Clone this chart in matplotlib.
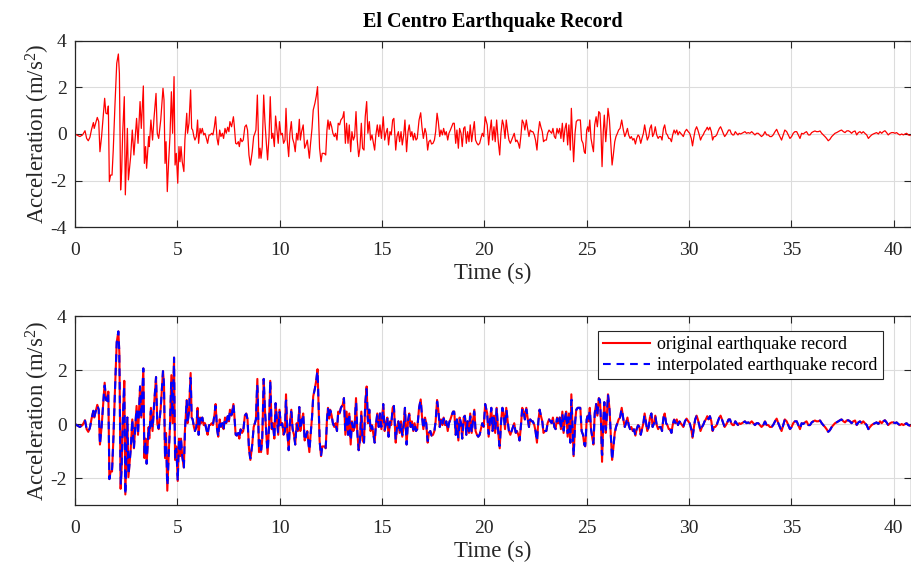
import numpy as np
import matplotlib
matplotlib.use("Agg")
import matplotlib.pyplot as plt

# El Centro ground acceleration, (time s, accel m/s^2) samples
TIME_S = [
    0.00, 0.10, 0.17, 0.24, 0.37, 0.49, 0.57, 0.65, 0.73, 0.81,
    0.90, 0.94, 1.01, 1.09, 1.16, 1.22, 1.30, 1.38, 1.45, 1.51,
    1.58, 1.63, 1.68, 1.74, 1.81, 1.87, 1.95, 2.04, 2.12, 2.17,
    2.23, 2.28, 2.33, 2.41, 2.46, 2.56, 2.61, 2.72, 2.80, 2.88,
    3.01, 3.08, 3.18, 3.24, 3.34, 3.39, 3.45, 3.50, 3.60, 3.63,
    3.71, 3.79, 3.86, 3.96, 4.02, 4.09, 4.19, 4.30, 4.35, 4.40,
    4.45, 4.51, 4.58, 4.64, 4.71, 4.77, 4.84, 4.89, 4.95, 5.02,
    5.08, 5.13, 5.18, 5.24, 5.32, 5.37, 5.46, 5.50, 5.57, 5.65,
    5.70, 5.75, 5.81, 5.86, 5.93, 5.99, 6.04, 6.11, 6.16, 6.22,
    6.29, 6.35, 6.42, 6.48, 6.55, 6.61, 6.68, 6.74, 6.81, 6.87,
    6.94, 7.00, 7.07, 7.13, 7.20, 7.26, 7.33, 7.39, 7.46, 7.52,
    7.57, 7.65, 7.74, 7.78, 7.85, 7.91, 7.98, 8.03, 8.09, 8.16,
    8.22, 8.30, 8.37, 8.43, 8.50, 8.57, 8.66, 8.73, 8.79, 8.84,
    8.91, 8.99, 9.04, 9.09, 9.15, 9.22, 9.28, 9.35, 9.41, 9.48,
    9.54, 9.61, 9.67, 9.74, 9.80, 9.93, 9.99, 10.06, 10.13, 10.19,
    10.26, 10.31, 10.37, 10.44, 10.50, 10.57, 10.63, 10.70, 10.76, 10.83,
    10.89, 10.96, 11.01, 11.07, 11.15, 11.22, 11.28, 11.35, 11.45, 11.51,
    11.58, 11.64, 11.72, 11.79, 11.85, 11.90, 11.95, 12.02, 12.08, 12.18,
    12.25, 12.31, 12.36, 12.42, 12.47, 12.54, 12.60, 12.67, 12.73, 12.80,
    12.86, 12.93, 12.99, 13.08, 13.14, 13.21, 13.27, 13.34, 13.40, 13.47,
    13.53, 13.60, 13.66, 13.73, 13.79, 13.86, 13.92, 13.99, 14.05, 14.12,
    14.18, 14.25, 14.31, 14.38, 14.44, 14.51, 14.57, 14.64, 14.70, 14.77,
    14.84, 14.90, 14.97, 15.06, 15.13, 15.19, 15.26, 15.32, 15.39, 15.45,
    15.52, 15.58, 15.67, 15.73, 15.80, 15.86, 15.93, 15.99, 16.06, 16.12,
    16.20, 16.27, 16.33, 16.40, 16.46, 16.53, 16.59, 16.66, 16.72, 16.81,
    16.89, 16.95, 17.02, 17.10, 17.16, 17.23, 17.29, 17.36, 17.42, 17.49,
    17.56, 17.62, 17.69, 17.75, 17.82, 17.88, 17.95, 18.01, 18.08, 18.14,
    18.21, 18.27, 18.34, 18.40, 18.47, 18.53, 18.60, 18.66, 18.73, 18.79,
    18.86, 18.92, 18.99, 19.05, 19.12, 19.18, 19.25, 19.31, 19.38, 19.44,
    19.51, 19.57, 19.64, 19.70, 19.77, 19.83, 19.90, 19.97, 20.04, 20.14,
    20.21, 20.27, 20.34, 20.40, 20.47, 20.53, 20.60, 20.68, 20.75, 20.81,
    20.88, 20.94, 21.01, 21.07, 21.14, 21.20, 21.27, 21.33, 21.40, 21.46,
    21.53, 21.59, 21.66, 21.72, 21.79, 21.85, 21.92, 21.98, 22.05, 22.11,
    22.18, 22.24, 22.31, 22.37, 22.44, 22.50, 22.57, 22.63, 22.70, 22.76,
    22.83, 22.89, 22.96, 23.03, 23.09, 23.16, 23.22, 23.29, 23.35, 23.42,
    23.48, 23.55, 23.61, 23.68, 23.74, 23.81, 23.87, 23.94, 24.00, 24.07,
    24.13, 24.20, 24.25, 24.31, 24.36, 24.43, 24.49, 24.56, 24.62, 24.69,
    24.75, 24.82, 24.88, 24.93, 25.00, 25.05, 25.10, 25.15, 25.21, 25.28,
    25.33, 25.39, 25.46, 25.52, 25.59, 25.65, 25.70, 25.75, 25.81, 25.86,
    25.93, 25.98, 26.04, 26.11, 26.17, 26.24, 26.30, 26.37, 26.43, 26.50,
    26.56, 26.63, 26.71, 26.79, 26.86, 26.92, 26.99, 27.05, 27.12, 27.18,
    27.25, 27.31, 27.38, 27.44, 27.51, 27.57, 27.64, 27.70, 27.77, 27.83,
    27.90, 27.96, 28.03, 28.09, 28.16, 28.22, 28.29, 28.35, 28.42, 28.49,
    28.55, 28.62, 28.68, 28.75, 28.81, 28.88, 28.94, 29.01, 29.07, 29.14,
    29.20, 29.27, 29.33, 29.40, 29.46, 29.53, 29.59, 29.66, 29.72, 29.80,
    29.88, 29.96, 30.03, 30.11, 30.17, 30.24, 30.30, 30.37, 30.43, 30.50,
    30.56, 30.63, 30.69, 30.76, 30.82, 30.89, 30.95, 31.02, 31.09, 31.15,
    31.22, 31.28, 31.35, 31.41, 31.48, 31.54, 31.61, 31.67, 31.74, 31.80,
    31.87, 31.93, 32.00, 32.06, 32.13, 32.19, 32.26, 32.32, 32.39, 32.45,
    32.52, 32.58, 32.65, 32.73, 32.81, 32.89, 32.97, 33.06, 33.14, 33.22,
    33.30, 33.38, 33.46, 33.54, 33.63, 33.71, 33.79, 33.87, 33.95, 34.03,
    34.11, 34.20, 34.28, 34.36, 34.44, 34.52, 34.60, 34.68, 34.77, 34.85,
    34.93, 35.01, 35.09, 35.17, 35.26, 35.34, 35.42, 35.50, 35.58, 35.66,
    35.74, 35.83, 35.91, 35.99, 36.07, 36.15, 36.23, 36.31, 36.40, 36.48,
    36.56, 36.64, 36.72, 36.80, 36.88, 36.97, 37.05, 37.13, 37.21, 37.29,
    37.37, 37.45, 37.54, 37.62, 37.70, 37.78, 37.86, 37.94, 38.02, 38.11,
    38.19, 38.27, 38.35, 38.43, 38.51, 38.59, 38.68, 38.76, 38.84, 38.92,
    39.00, 39.08, 39.16, 39.25, 39.33, 39.41, 39.49, 39.57, 39.65, 39.73,
    39.82, 39.90, 39.98, 40.06, 40.14, 40.22, 40.30, 40.39, 40.47, 40.55,
    40.63, 40.71, 40.80,
]

ACCEL_MS2 = [
    0.00, -0.05, -0.08, -0.11, -0.04, 0.14, -0.19, -0.29, -0.14, 0.20,
    0.49, 0.24, 0.46, 0.71, 0.53, -0.76, -0.11, 0.74, 1.53, 0.89,
    0.86, 1.20, -2.04, -1.76, -1.76, -0.69, 1.17, 3.03, 3.43, 2.60,
    -2.40, -1.61, 0.03, 1.60, -2.61, 0.24, -1.97, -0.97, 0.17, -0.90,
    0.67, -0.40, 1.39, 0.24, 2.06, -1.26, -0.54, -1.47, -0.11, -0.54,
    0.60, -0.26, 0.67, 1.74, 0.03, -0.19, 0.60, 1.96, 1.46, -1.26,
    -0.33, -2.47, -1.11, -0.11, 1.81, 0.03, 2.46, -1.33, -0.83, -2.11,
    -0.54, -1.19, -0.54, -1.19, -1.61, -0.26, 0.89, 0.03, 0.46, 1.89,
    0.24, 0.17, -0.11, -0.26, -0.11, 0.60, -0.40, 0.24, 0.03, 0.24,
    -0.04, 0.03, -0.19, -0.40, -0.04, -0.04, 0.03, -0.04, 0.31, 0.74,
    -0.19, -0.47, 0.17, -0.11, 0.03, -0.19, 0.24, 0.03, 0.29, 0.10,
    0.53, 0.31, 0.74, 0.39, -0.40, -0.43, -0.33, -0.54, -0.19, -0.33,
    -0.26, 0.31, 0.39, 0.17, -0.90, -1.33, -0.76, -0.11, 0.03, 0.17,
    1.67, -1.04, -0.61, -1.04, -0.54, 1.67, 0.53, -0.40, -1.11, -0.11,
    1.60, -0.19, 0.03, -0.54, 0.77, -0.40, 0.53, -0.04, 0.03, -0.40,
    -0.26, 1.10, -0.26, -0.97, 0.03, 0.53, -0.19, -0.40, -0.76, 0.03,
    -0.26, 0.63, -0.26, 0.10, 0.39, -0.61, -0.47, -0.26, -1.04, -0.40,
    0.24, 1.03, 1.31, 1.63, 2.03, 0.74, -0.61, -1.19, -0.83, -0.83,
    -0.90, 0.17, 0.60, 0.20, 0.53, 0.31, 0.03, -0.11, 0.03, -0.26,
    0.46, 0.39, 0.60, 0.71, 0.96, -0.40, 0.46, -0.40, 0.39, -0.76,
    0.10, -0.26, -0.11, 0.96, -0.26, -0.97, -0.61, 0.46, -0.61, -0.69,
    0.74, 1.39, 0.03, 0.53, -0.26, -0.04, -0.33, -0.69, -0.04, 0.39,
    -0.11, 0.39, -0.19, 0.74, -0.26, 0.03, 0.24, -0.47, 0.10, -0.04,
    0.60, 0.67, -0.69, -0.11, 0.10, -0.33, 0.10, -0.47, -0.04, 0.60,
    -0.76, 0.10, 0.39, -0.11, 0.10, -0.26, 0.03, -0.26, -0.19, 0.60,
    0.91, 0.31, -0.19, 0.24, 0.03, -0.69, -0.33, -0.26, -0.43, -0.40,
    -0.26, 0.10, 0.89, 0.53, -0.11, 0.17, -0.04, 0.24, -0.04, 0.10,
    -0.26, 0.03, 0.17, 0.31, 0.46, 0.46, -0.40, 0.17, -0.61, 0.24,
    0.03, -0.54, 0.24, 0.31, -0.40, 0.10, -0.33, 0.39, -0.33, 0.10,
    0.53, -0.26, -0.40, -0.47, -0.40, -0.19, 0.03, -0.11, 0.74, 0.39,
    -0.47, 0.10, 0.60, -0.26, 0.31, -0.33, 0.60, -0.33, -0.90, 0.03,
    0.60, 0.39, -0.19, 0.60, 0.10, -0.26, -0.40, -0.26, -0.11, 0.03,
    -0.33, -0.26, -0.40, -0.61, -0.04, 0.60, 0.46, 0.17, 0.60, 0.24,
    -0.11, 0.17, 0.10, 0.10, -0.04, -0.26, -0.69, 0.03, 0.53, 0.31,
    0.10, -0.33, -0.26, -0.26, 0.03, 0.17, 0.10, 0.03, 0.24, -0.11,
    -0.19, 0.24, 0.03, 0.24, -0.19, 0.46, -0.33, 0.24, 0.46, -0.47,
    0.39, -0.69, 1.10, -0.11, -1.19, 0.03, 0.53, 0.60, 0.60, 0.60,
    -0.26, -0.40, -0.76, -0.83, 0.17, 0.31, 0.10, 0.60, -0.19, -0.54,
    -0.76, 0.39, 0.74, 0.31, 0.96, 0.89, 0.03, -1.40, 0.10, 0.81,
    -0.33, 0.24, 1.10, 0.60, -0.26, -1.33, -0.90, -0.33, -0.11, 0.03,
    0.17, 0.24, 0.60, 0.17, -0.11, 0.03, 0.24, -0.04, -0.19, -0.11,
    -0.26, -0.19, -0.43, -0.19, -0.04, -0.11, -0.40, -0.19, 0.03, 0.39,
    0.03, -0.26, -0.11, 0.24, 0.39, -0.11, 0.03, 0.31, -0.04, -0.19,
    -0.11, -0.11, -0.26, 0.24, 0.39, 0.03, -0.04, -0.19, -0.19, -0.33,
    -0.04, 0.17, 0.03, 0.17, -0.04, 0.10, 0.03, -0.04, -0.11, 0.10,
    0.20, 0.10, 0.03, -0.19, -0.51, -0.11, 0.17, 0.31, 0.17, -0.04,
    -0.26, -0.11, -0.04, 0.10, 0.17, 0.29, 0.17, 0.29, 0.10, -0.26,
    -0.11, -0.11, -0.04, 0.10, 0.24, 0.31, 0.17, 0.03, -0.11, -0.04,
    0.06, 0.17, 0.17, 0.03, -0.04, -0.04, 0.10, 0.03, -0.04, 0.03,
    0.00, 0.03, 0.06, 0.10, 0.03, 0.06, 0.03, 0.10, 0.03, -0.04,
    0.03, 0.03, -0.04, -0.11, -0.04, 0.10, -0.04, -0.04, -0.11, -0.11,
    -0.04, 0.10, 0.20, 0.03, -0.11, -0.26, -0.04, 0.17, 0.10, -0.04,
    -0.19, -0.11, 0.03, 0.10, 0.10, -0.04, -0.19, 0.03, 0.00, 0.06,
    0.10, -0.04, -0.04, 0.06, 0.10, 0.13, 0.10, 0.10, 0.13, 0.03,
    -0.04, -0.11, -0.19, -0.29, -0.23, -0.11, -0.04, 0.03, 0.06, 0.10,
    0.14, 0.17, 0.10, 0.06, 0.13, 0.14, 0.10, 0.03, 0.10, 0.13,
    -0.04, 0.06, 0.10, 0.03, 0.10, 0.03, -0.04, -0.19, -0.11, -0.04,
    0.00, 0.03, 0.06, 0.00, 0.10, 0.03, 0.10, 0.14, 0.06, -0.04,
    0.03, 0.06, 0.06, 0.03, 0.06, 0.00, -0.04, 0.00, -0.04, 0.00,
    0.03, -0.04, -0.06,
]

X_TICKS = [0, 5, 10, 15, 20, 25, 30, 35, 40]
TOP_Y_TICKS = [-4, -2, 0, 2, 4]
BOTTOM_Y_TICKS = [-2, 0, 2, 4]
INTERP_DT = 0.02

AX_COLOR = "#262626"
GRID_COLOR = "#dcdcdc"

plt.rcParams["font.family"] = ["Liberation Serif", "DejaVu Serif"]
plt.rcParams["mathtext.fontset"] = "custom"
plt.rcParams["mathtext.rm"] = "Liberation Serif"
plt.rcParams["mathtext.it"] = "Liberation Serif:italic"
plt.rcParams["axes.unicode_minus"] = False


def style_axes(ax, yticks, ylim):
    ax.set_xlim(0, 40.83)
    ax.set_ylim(*ylim)
    ax.set_xticks(X_TICKS)
    ax.set_yticks(yticks)
    ax.tick_params(direction="in", top=True, right=True, length=5,
                   width=0.8, colors=AX_COLOR, labelsize=14)
    ax.tick_params(axis="x", pad=10.5)
    ax.tick_params(axis="y", pad=6)
    for sp in ax.spines.values():
        sp.set_color(AX_COLOR)
        sp.set_linewidth(0.9)
    ax.grid(True, color=GRID_COLOR, linewidth=0.8)
    ax.set_axisbelow(True)
    ax.set_xlabel("Time (s)", fontsize=16.5, color=AX_COLOR, labelpad=3)
    ax.set_ylabel(r"Acceleration (m/s$^{2}$)", fontsize=16.5, color=AX_COLOR,
                  labelpad=-1)


t = np.array(TIME_S)
acc = np.array(ACCEL_MS2)

# resample the record on a uniform grid
t_interp = np.arange(0.0, t[-1] + 1e-9, INTERP_DT)
acc_interp = np.interp(t_interp, t, acc)

fig = plt.figure(figsize=(9.11, 5.63), dpi=100)
ax_top = fig.add_axes([0.0823, 0.5963, 0.9174, 0.3314])
ax_bot = fig.add_axes([0.0823, 0.1030, 0.9174, 0.3357])

ax_top.plot(t, acc, color="red", linewidth=0.9)
style_axes(ax_top, TOP_Y_TICKS, (-4, 4))
ax_top.set_title("El Centro Earthquake Record", fontsize=14.5,
                 fontweight="bold", color="black", pad=10)

ax_bot.plot(t, acc, color="red", linewidth=1.5,
            label="original earthquake record")
ax_bot.plot(t_interp, acc_interp, color="blue", linewidth=1.5,
            linestyle=(0, (3.7, 2.8)), label="interpolated earthquake record")
style_axes(ax_bot, BOTTOM_Y_TICKS, (-3, 4))

leg = ax_bot.legend(loc="upper right", bbox_to_anchor=(0.967, 0.921),
                    borderaxespad=0, fontsize=13, fancybox=False,
                    framealpha=1, edgecolor=AX_COLOR, handlelength=2.6,
                    borderpad=0.3, labelspacing=0.2, handletextpad=0.4)
leg.get_frame().set_linewidth(0.8)

fig.savefig("out.png", dpi=100)
